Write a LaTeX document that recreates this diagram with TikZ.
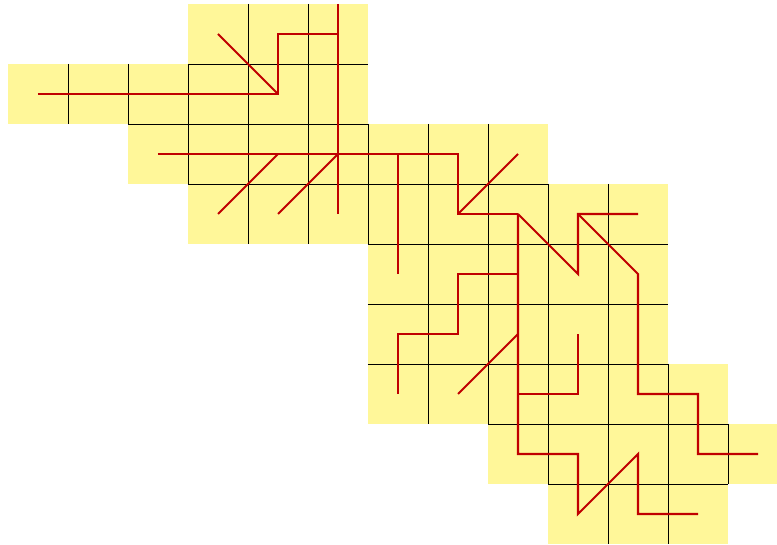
\documentclass[tikz,border=0pt]{standalone}
\definecolor{cellfill}{RGB}{255,247,153}
\definecolor{pathred}{RGB}{192,0,0}
\begin{document}
\begin{tikzpicture}[yscale=-1, x=1cm, y=1cm,
  gridline/.style={black, line width=0.45pt},
  route/.style={pathred, line width=1pt}]
\useasboundingbox (-0.1333,-0.0667) rectangle (12.8167,9.0167);
\clip (-0.1333,-0.0667) rectangle (12.8167,9.0167);
% cells
\foreach \r/\a/\b in {0/3/5,1/0/5,2/2/8,3/3/10,4/6/10,5/6/10,6/6/11,7/8/12,8/9/11}
  \fill[cellfill] (\a,\r) rectangle (\b+1,\r+1);
% vertical shared edges
\foreach \r/\a/\b in {0/3/5,1/0/5,2/2/8,3/3/10,4/6/10,5/6/10,6/6/11,7/8/12,8/9/11}{
  \pgfmathtruncatemacro\s{\a+1}
  \foreach \x in {\s,...,\b}
    \draw[gridline] (\x,\r) -- (\x,\r+1);
}
% horizontal shared edges
\foreach \y/\a/\b in {1/3/6,2/2/6,3/3/9,4/6/11,5/6/11,6/6/11,7/8/12,8/9/12}
  \draw[gridline] (\a,\y) -- (\b,\y);
% red routes
\draw[route] (0.5,1.5) -- (4.5,1.5) -- (4.5,0.5) -- (5.5,0.5);
\draw[route] (3.5,0.5) -- (4.5,1.5);
\draw[route] (5.5,0) -- (5.5,3.5);
\draw[route] (2.5,2.5) -- (7.5,2.5) -- (7.5,3.5) -- (8.5,3.5);
\draw[route] (3.5,3.5) -- (4.5,2.5);
\draw[route] (4.5,3.5) -- (5.5,2.5);
\draw[route] (6.5,2.5) -- (6.5,4.5);
\draw[route] (7.5,3.5) -- (8.5,2.5);
\draw[route] (8.5,3.5) -- (9.5,4.5) -- (9.5,3.5) -- (10.5,3.5);
\draw[route] (9.5,3.5) -- (10.5,4.5) -- (10.5,6.5) -- (11.5,6.5) -- (11.5,7.5) -- (12.5,7.5);
\draw[route] (8.5,3.5) -- (8.5,7.5) -- (9.5,7.5) -- (9.5,8.5) -- (10.5,7.5) -- (10.5,8.5) -- (11.5,8.5);
\draw[route] (6.5,6.5) -- (6.5,5.5) -- (7.5,5.5) -- (7.5,4.5) -- (8.5,4.5);
\draw[route] (7.5,6.5) -- (8.5,5.5);
\draw[route] (8.5,6.5) -- (9.5,6.5) -- (9.5,5.5);
\end{tikzpicture}
\end{document}
